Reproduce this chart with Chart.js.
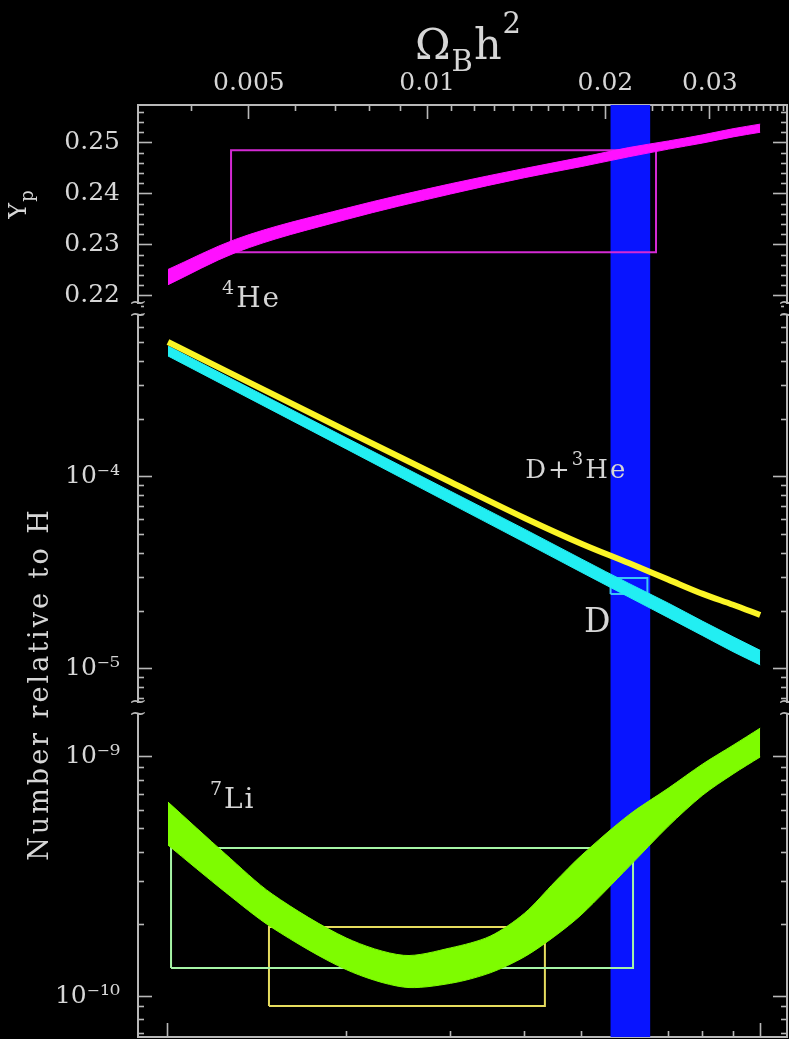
<!DOCTYPE html>
<html>
<head>
<meta charset="utf-8">
<title>BBN abundances</title>
<script src="https://cdn.jsdelivr.net/npm/chart.js@4.4.1/dist/chart.umd.min.js"></script>
<style>
    html, body { margin: 0; padding: 0; background: #000; }
    canvas { display: block; }
</style>
</head>
<body>
<canvas id="bbn" width="789" height="1039"></canvas>
<script>
// eta is in units of 1e-10 (bottom axis); Omega_B h^2 = 0.00365 * eta (top axis)
const etaRange = [0.89, 11.1];
const omegaPerEta = 0.00365;

// 4He mass fraction band
const ypEta  = [1, 1.3, 2, 3, 4, 5, 6, 7, 8, 9, 10];
const ypHigh = [0.2252, 0.2311, 0.2372, 0.2420, 0.2450, 0.2472, 0.2491, 0.2504, 0.2516, 0.2528, 0.2537];
const ypLow  = [0.2222, 0.2285, 0.2350, 0.2400, 0.2432, 0.2454, 0.2473, 0.2488, 0.2500, 0.2512, 0.2521];

// D/H band and D+3He line
const dEta  = [1, 2, 3, 4, 5, 6, 7, 8, 9, 10];
const dHigh = [4.81e-4, 1.60e-4, 8.43e-5, 5.35e-5, 3.73e-5, 2.79e-5, 2.20e-5, 1.77e-5, 1.47e-5, 1.25e-5];
const dLow  = [4.27e-4, 1.40e-4, 7.27e-5, 4.57e-5, 3.18e-5, 2.37e-5, 1.85e-5, 1.49e-5, 1.23e-5, 1.05e-5];
const dHe3  = [5.05e-4, 1.74e-4, 9.42e-5, 6.12e-5, 4.48e-5, 3.56e-5, 2.92e-5, 2.46e-5, 2.16e-5, 1.91e-5];

// 7Li/H band
const liEta  = [1, 1.25, 1.5, 2, 2.5, 3, 3.5, 4, 4.5, 5, 6, 7, 8, 9, 10];
const liHigh = [6.48e-10, 3.93e-10, 2.67e-10, 1.75e-10, 1.48e-10, 1.59e-10, 1.78e-10, 2.22e-10, 3.00e-10, 3.89e-10, 5.72e-10, 7.41e-10, 9.35e-10, 1.12e-9, 1.32e-9];
const liLow  = [4.28e-10, 2.72e-10, 1.93e-10, 1.29e-10, 1.09e-10, 1.13e-10, 1.25e-10, 1.46e-10, 1.78e-10, 2.20e-10, 3.47e-10, 5.14e-10, 6.93e-10, 8.49e-10, 1.00e-9];

// observation boxes: [etaMin, etaMax, valueMin, valueMax]
const he4Box      = [1.278, 6.67, 0.2286, 0.2486];
const dBox        = [5.59, 6.45, 2.46e-5, 2.98e-5];
const liBoxWide   = [1.012, 6.10, 1.31e-10, 4.16e-10];
const liBoxNarrow = [1.481, 4.33, 9.08e-11, 1.945e-10];

// baryon density band (Omega_B h^2)
const omegaBand = [0.0204, 0.0238];

// panel ranges
const ypRange = [0.21745, 0.25745];
const dRange  = [6.26e-6, 7.5e-4];
const liRange = [6.74e-11, 1.603e-9];

// tick labels
const omegaLabels = [0.005, 0.01, 0.02, 0.03];
const ypLabels    = [0.22, 0.23, 0.24, 0.25];
const dLabels     = [1e-5, 1e-4];
const liLabels    = [1e-10, 1e-9];
const etaMajor    = [1, 10];

const axisGrey = '#b8b8b8';
const textGrey = '#d6d6d6';
const serif = '"DejaVu Serif", "Liberation Serif", serif';

const colors = {
    band: '#0814ff',
    he4: '#ff10ff',
    d: '#22eef2',
    dHe3: '#fbf526',
    li: '#7efc00',
    he4Box: '#d42ad4',
    dBox: '#3cc6f6',
    liBoxWide: '#a6f4a6',
    liBoxNarrow: '#e6dc5e'
};

// helpers
const zip = (xs, ys) => xs.map((x, i) => ({ x: x, y: ys[i] }));
const rect = b => [
    { x: b[0], y: b[2] }, { x: b[1], y: b[2] }, { x: b[1], y: b[3] }, { x: b[0], y: b[3] }, { x: b[0], y: b[2] }
];
const near = (v, list) => list.some(l => Math.abs(v / l - 1) < 1e-6);

function logTicks(min, max) {
    const out = [];
    for (let e = Math.floor(Math.log10(min)); e <= Math.ceil(Math.log10(max)); e++) {
        for (let m = 1; m < 10; m++) {
            const v = m * Math.pow(10, e);
            if (v >= min && v <= max) out.push(v);
        }
    }
    return out;
}

const supMap = { '-': '\u207B', '0': '\u2070', '1': '\u00B9', '2': '\u00B2', '3': '\u00B3', '4': '\u2074',
    '5': '\u2075', '6': '\u2076', '7': '\u2077', '8': '\u2078', '9': '\u2079' };
const powLabel = v => '10' + String(Math.round(Math.log10(v))).split('').map(c => supMap[c]).join('');

const ypTicks = [];
for (let k = 109; k <= 128; k++) ypTicks.push(+(k * 0.002).toFixed(3));
const omegaTicks = [];
for (let k = 4; k <= 40; k++) omegaTicks.push(k / 1000);
const etaTicks = [1, 2, 3, 4, 5, 6, 7, 8, 9, 10];
const dTicks = logTicks(dRange[0], dRange[1]);
const liTicks = logTicks(liRange[0], liRange[1]);

function setTicks(values, majors) {
    return scale => {
        scale.ticks = values.map(v => ({ value: v, major: near(v, majors) }));
    };
}

// fixed axis box size, no extra label padding
function fixSize(prop, size) {
    return s => {
        s[prop] = size;
        s.paddingLeft = s.paddingRight = s.paddingTop = s.paddingBottom = 0;
    };
}

// inward tick marks; minor ones shortened with a dash pattern
function tickGrid(innerStart) {
    return {
        drawOnChartArea: false,
        drawTicks: true,
        tickLength: -14,
        tickWidth: 1.6,
        tickColor: axisGrey,
        tickBorderDash: c => (c.tick && c.tick.major) ? [] : [7, 100],
        tickBorderDashOffset: c => (c.tick && c.tick.major) ? 0 : (innerStart ? 99 : 0)
    };
}
const axisBorder = { display: true, color: axisGrey, width: 2 };
const tickFont = { family: serif, size: 25 };

function leftAxis(type, range, weight, values, labels, fmt) {
    return {
        type: type,
        position: 'left',
        stack: 'left',
        stackWeight: weight,
        min: range[0],
        max: range[1],
        afterBuildTicks: setTicks(values, labels),
        afterFit: fixSize('width', 138),
        ticks: {
            autoSkip: false,
            padding: 32,
            color: textGrey,
            font: tickFont,
            callback: v => near(v, labels) ? fmt(v) : ''
        },
        grid: tickGrid(true),
        border: axisBorder
    };
}

function rightAxis(type, range, weight, values, labels) {
    return {
        type: type,
        position: 'right',
        stack: 'right',
        stackWeight: weight,
        min: range[0],
        max: range[1],
        afterBuildTicks: setTicks(values, labels),
        afterFit: fixSize('width', 2),
        ticks: { display: false, autoSkip: false },
        grid: tickGrid(false),
        border: axisBorder
    };
}

function band(label, eta, hi, lo, color, yAxisID, smooth) {
    const curve = smooth ? { tension: smooth } : { cubicInterpolationMode: 'monotone' };
    return [
        { label: label + ' high', data: zip(eta, hi), yAxisID: yAxisID, borderColor: color, borderWidth: 1,
          backgroundColor: color, fill: false, order: 2, ...curve },
        { label: label + ' low', data: zip(eta, lo), yAxisID: yAxisID, borderColor: color, borderWidth: 1,
          backgroundColor: color, fill: '-1', order: 2, ...curve }
    ];
}

function box(label, b, color, yAxisID) {
    return { label: label, data: rect(b), yAxisID: yAxisID, borderColor: color, borderWidth: 2,
             fill: false, tension: 0, borderJoinStyle: 'miter', order: 5 };
}

// text drawn piece by piece so sub/superscripts can be shifted
function drawRuns(ctx, x, y, runs, align, spacing) {
    ctx.letterSpacing = (spacing || 0) + 'px';
    let total = 0;
    runs.forEach(r => {
        ctx.font = r.size + 'px ' + serif;
        r.w = ctx.measureText(r.text).width;
        total += r.w;
    });
    let cx = align === 'center' ? x - total / 2 : x;
    runs.forEach(r => {
        ctx.font = r.size + 'px ' + serif;
        ctx.fillText(r.text, cx, y + (r.dy || 0));
        cx += r.w;
    });
    ctx.letterSpacing = '0px';
}

const labelSpots = [
    { axis: 'yHe', eta: 1.234, value: 0.2178, runs: [{ text: '4', size: 19, dy: -13 }, { text: 'He', size: 28 }] },
    { axis: 'yD', eta: 4.01, value: 9.88e-5, runs: [{ text: 'D+', size: 26 }, { text: '3', size: 18, dy: -13 }, { text: 'He', size: 26 }] },
    { axis: 'yD', eta: 5.04, value: 1.56e-5, runs: [{ text: 'D', size: 33 }] },
    { axis: 'yLi', eta: 1.177, value: 6.12e-10, runs: [{ text: '7', size: 19, dy: -13 }, { text: 'Li', size: 28 }] }
];

const textPlugin = {
    id: 'bbnText',
    afterDraw(chart) {
        const { ctx, chartArea, scales } = chart;
        ctx.save();
        ctx.textBaseline = 'alphabetic';
        ctx.textAlign = 'left';
        ctx.fillStyle = textGrey;

        // top axis title
        drawRuns(ctx, (chartArea.left + chartArea.right) / 2 + 6, 59, [
            { text: '\u03A9', size: 43 }, { text: 'B', size: 29, dy: 12 },
            { text: 'h', size: 43 }, { text: '2', size: 29, dy: -26 }
        ], 'center', 1);

        // curve labels
        labelSpots.forEach(s => {
            const x = scales.x.getPixelForValue(s.eta);
            const y = scales[s.axis].getPixelForValue(s.value);
            drawRuns(ctx, x, y, s.runs, 'left', 2);
        });

        // vertical axis titles
        ctx.save();
        ctx.translate(26, 204);
        ctx.rotate(-Math.PI / 2);
        drawRuns(ctx, 0, 0, [{ text: 'Y', size: 24 }, { text: 'p', size: 18, dy: 7 }], 'center', 1);
        ctx.restore();

        ctx.save();
        ctx.translate(48, 684);
        ctx.rotate(-Math.PI / 2);
        drawRuns(ctx, 0, 0, [{ text: 'Number relative to H', size: 27 }], 'center', 3);
        ctx.restore();

        // axis breaks
        ctx.textAlign = 'center';
        ctx.textBaseline = 'middle';
        ctx.font = '22px ' + serif;
        [scales.yHe.bottom, scales.yD.bottom].forEach(b => {
            [chartArea.left, chartArea.right].forEach(x => {
                ctx.fillStyle = '#000';
                ctx.fillRect(x - 3, b - 5, 6, 10);
                ctx.fillStyle = axisGrey;
                ctx.fillText('~', x, b - 6);
                ctx.fillText('~', x, b + 6);
            });
        });
        ctx.restore();
    }
};

const datasets = [
    { label: 'Omega_B h^2 band', data: rect([omegaBand[0], omegaBand[1], 0, 1]), xAxisID: 'xTop', yAxisID: 'yFull',
      borderWidth: 0, backgroundColor: colors.band, fill: 'shape', order: 10 },
    box('4He obs', he4Box, colors.he4Box, 'yHe'),
    box('D obs', dBox, colors.dBox, 'yD'),
    box('7Li obs wide', liBoxWide, colors.liBoxWide, 'yLi'),
    box('7Li obs narrow', liBoxNarrow, colors.liBoxNarrow, 'yLi'),
    ...band('4He', ypEta, ypHigh, ypLow, colors.he4, 'yHe'),
    ...band('D', dEta, dHigh, dLow, colors.d, 'yD'),
    { label: 'D+3He', data: zip(dEta, dHe3), yAxisID: 'yD', borderColor: colors.dHe3, borderWidth: 6,
      fill: false, cubicInterpolationMode: 'monotone', order: 1 },
    ...band('7Li', liEta, liHigh, liLow, colors.li, 'yLi', 0.3)
];

new Chart(document.getElementById('bbn'), {
    type: 'line',
    data: { datasets: datasets },
    options: {
        responsive: false,
        devicePixelRatio: 1,
        animation: false,
        events: [],
        layout: { padding: 0 },
        elements: { point: { radius: 0 } },
        plugins: { legend: { display: false }, tooltip: { enabled: false } },
        scales: {
            x: {
                type: 'logarithmic',
                position: 'bottom',
                min: etaRange[0],
                max: etaRange[1],
                afterBuildTicks: setTicks(etaTicks, etaMajor),
                afterFit: fixSize('height', 2),
                ticks: { display: false, autoSkip: false },
                grid: tickGrid(false),
                border: axisBorder
            },
            xTop: {
                type: 'logarithmic',
                position: 'top',
                min: etaRange[0] * omegaPerEta,
                max: etaRange[1] * omegaPerEta,
                afterBuildTicks: setTicks(omegaTicks, omegaLabels),
                afterFit: fixSize('height', 105),
                ticks: {
                    autoSkip: false,
                    maxRotation: 0,
                    padding: 21,
                    color: textGrey,
                    font: tickFont,
                    callback: v => near(v, omegaLabels) ? String(v) : ''
                },
                grid: tickGrid(true),
                border: axisBorder
            },
            yLi: leftAxis('logarithmic', liRange, 329, liTicks, liLabels, powLabel),
            yD: leftAxis('logarithmic', dRange, 399, dTicks, dLabels, powLabel),
            yHe: leftAxis('linear', ypRange, 204, ypTicks, ypLabels, v => v.toFixed(2)),
            rHe: rightAxis('linear', ypRange, 204, ypTicks, ypLabels),
            rD: rightAxis('logarithmic', dRange, 399, dTicks, dLabels),
            rLi: rightAxis('logarithmic', liRange, 329, liTicks, liLabels),
            yFull: { type: 'linear', position: 'right', display: false, min: 0, max: 1 }
        }
    },
    plugins: [textPlugin]
});
</script>
</body>
</html>
